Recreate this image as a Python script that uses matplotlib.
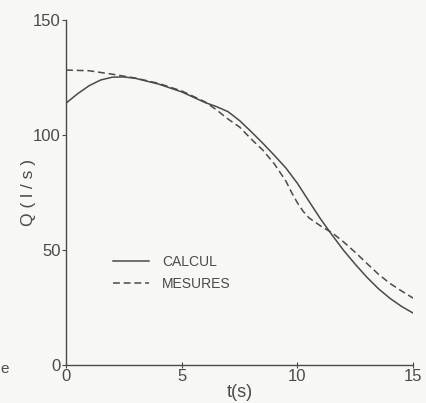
import numpy as np
import matplotlib.pyplot as plt

# === DATA ===
t_calc = [0, 0.5, 1, 1.5, 2, 2.5, 3, 4, 5, 6, 6.5, 7, 7.5, 8, 8.5, 9, 9.5,
          10, 10.5, 11, 11.5, 12, 12.5, 13, 13.5, 14, 14.5, 15]
q_calc = [113.9, 118, 121.5, 124, 125.2, 125.3, 124.7, 122.2, 118.8, 114.2,
          112.4, 110.2, 106.3, 101.5, 96.5, 91.2, 85.7, 79, 71.2, 63.5, 56.5,
          49.8, 43.8, 38.2, 33.2, 29, 25.5, 22.6]

t_mes = [0, 1, 2, 3, 4, 5, 6, 6.5, 7, 7.5, 8, 8.5, 9, 9.5, 9.75, 10, 10.25,
         10.5, 11, 11.5, 12, 12.5, 13, 13.5, 14, 14.5, 15]
q_mes = [128.3, 128, 126.5, 124.8, 122.5, 119.2, 114.5, 111, 107, 103.5,
         98.3, 93.5, 87.5, 80, 75, 70.5, 66.8, 64, 60.5, 57.5, 53.5, 49,
         44.2, 39.5, 35.5, 32.2, 29.1]

x_ticks = [0, 5, 10, 15]
y_ticks = [0, 50, 100, 150]

INK = '#4a4a4a'
PAPER = '#f7f7f4'

plt.rcParams['font.family'] = ['Liberation Sans', 'DejaVu Sans']

fig = plt.figure(figsize=(4.26, 4.03), dpi=100, facecolor=PAPER)
ax = fig.add_axes([0.155, 0.094, 0.815, 0.856], facecolor=PAPER)

ax.plot(t_calc, q_calc, color=INK, lw=1.1, label='CALCUL')
ax.plot(t_mes, q_mes, color=INK, lw=1.1, dashes=(4.5, 2.5), label='MESURES')

ax.set_xlim(0, 15)
ax.set_ylim(0, 150)
ax.set_xticks(x_ticks)
ax.set_yticks(y_ticks)
for s in ['top', 'right']:
    ax.spines[s].set_visible(False)
for s in ['left', 'bottom']:
    ax.spines[s].set_color(INK)
    ax.spines[s].set_linewidth(1.0)
ax.tick_params(axis='y', direction='out', length=3, width=0.8, pad=1,
               colors=INK, labelsize=12)
ax.tick_params(axis='x', direction='inout', length=4, width=0.8, pad=1,
               colors=INK, labelsize=12)

ax.set_xlabel('t(s)', fontsize=13, color=INK, labelpad=0)
ax.set_ylabel('Q ( l / s )', fontsize=12.5, color=INK, labelpad=-2)

ax.legend(loc='upper left', bbox_to_anchor=(0.1, 0.355), frameon=False,
          handlelength=2.6, handletextpad=0.9, labelspacing=0.55,
          fontsize=10, labelcolor=INK)

fig.text(0.0, 0.075, 'e', fontsize=11, color=INK)

fig.savefig('out.png', dpi=100, facecolor=PAPER)
